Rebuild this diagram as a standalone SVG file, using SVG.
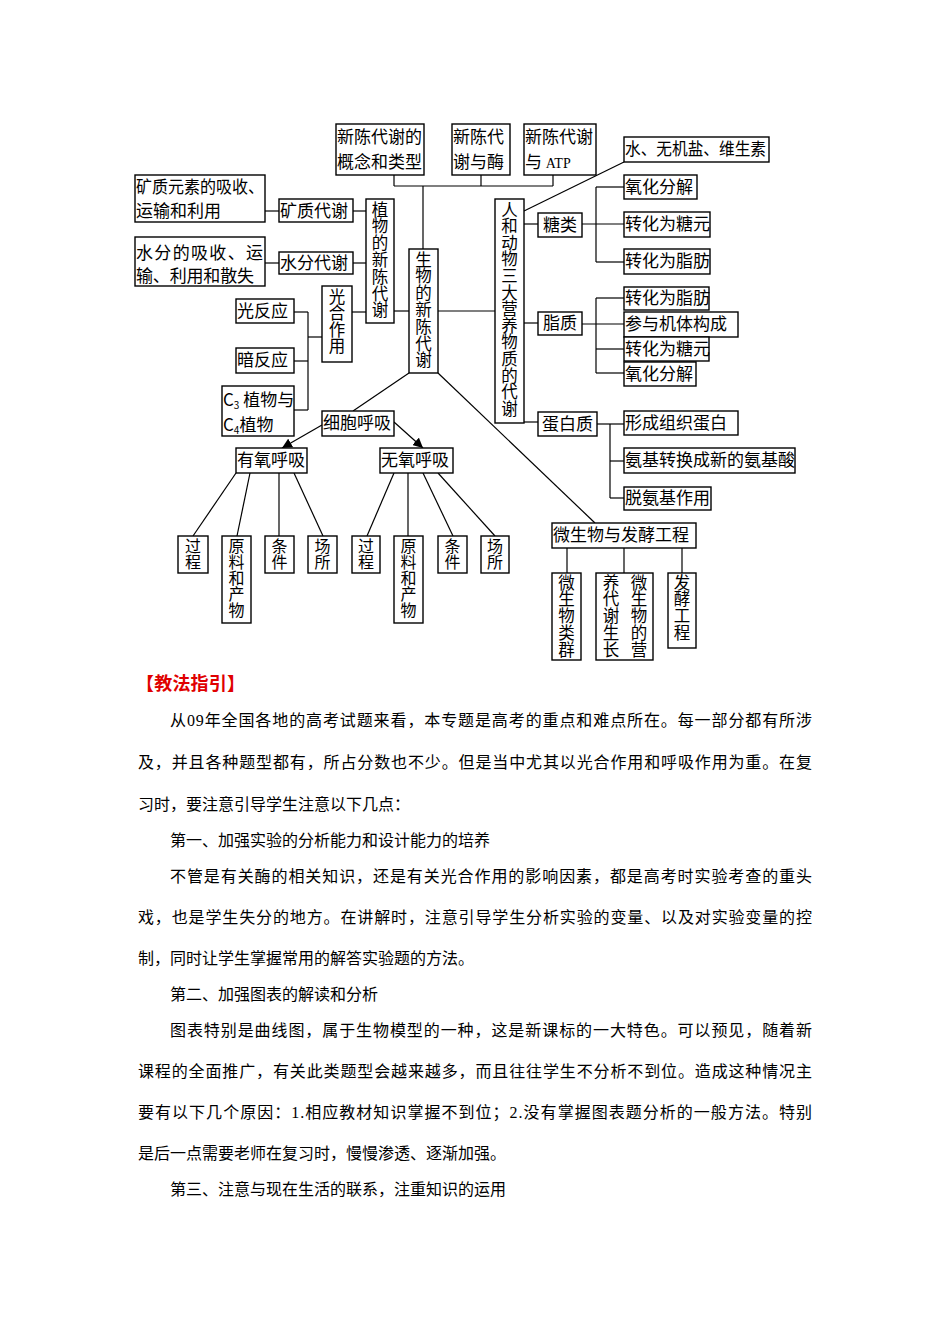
<svg xmlns="http://www.w3.org/2000/svg" width="950" height="1344" viewBox="0 0 950 1344">
<defs>
<style>
.b{fill:#fff;stroke:#000;stroke-width:1.4}
.t{font-family:"Noto Sans CJK SC","Liberation Sans",sans-serif;font-size:17px;fill:#000}
.v{font-family:"Noto Sans CJK SC","Liberation Sans",sans-serif;font-size:16.5px;fill:#000;writing-mode:vertical-rl;text-orientation:upright}
.s{font-size:16px}
.c line{stroke:#000;stroke-width:1.2;fill:none}
.p{font-family:"Liberation Serif","Noto Sans CJK SC",serif;font-size:16px;fill:#000}
.h{font-family:"Noto Sans CJK SC","Liberation Sans",sans-serif;font-size:18px;font-weight:bold;fill:#e00000}
</style>
<marker id="ah" viewBox="0 0 10 10" refX="10" refY="5" markerWidth="10" markerHeight="10" markerUnits="userSpaceOnUse" orient="auto"><path d="M0,0 L10,5 L0,10 z" fill="#000"/></marker>
</defs>
<rect width="950" height="1344" fill="#fff"/>

<g class="c" id="connectors">
<line x1="394" y1="175" x2="394" y2="186"/>
<line x1="394" y1="186" x2="553" y2="186"/>
<line x1="481" y1="175" x2="481" y2="186"/>
<line x1="553" y1="175" x2="553" y2="186"/>
<line x1="423" y1="186" x2="423" y2="249"/>
<line x1="265" y1="211" x2="279" y2="211"/>
<line x1="353" y1="211" x2="366" y2="211"/>
<line x1="265" y1="263" x2="279" y2="263"/>
<line x1="353" y1="263" x2="366" y2="263"/>
<line x1="352" y1="312" x2="366" y2="312"/>
<line x1="394" y1="311" x2="409" y2="311"/>
<line x1="438" y1="311" x2="495" y2="311"/>
<line x1="294" y1="312" x2="308" y2="312"/>
<line x1="294" y1="361" x2="308" y2="361"/>
<line x1="294" y1="410" x2="308" y2="410"/>
<line x1="308" y1="312" x2="308" y2="410"/>
<line x1="308" y1="337" x2="322" y2="337"/>
<line x1="409" y1="373" x2="353" y2="411"/>
<line x1="322" y1="425" x2="282" y2="448" marker-end="url(#ah)"/>
<line x1="394" y1="422" x2="423" y2="448" marker-end="url(#ah)"/>
<line x1="236" y1="473" x2="193" y2="536"/>
<line x1="250" y1="473" x2="237" y2="536"/>
<line x1="279" y1="473" x2="279" y2="536"/>
<line x1="294" y1="473" x2="323" y2="536"/>
<line x1="394" y1="473" x2="367" y2="536"/>
<line x1="408" y1="473" x2="408" y2="536"/>
<line x1="423" y1="473" x2="453" y2="536"/>
<line x1="438" y1="473" x2="495" y2="536"/>
<line x1="438" y1="373" x2="595" y2="523"/>
<line x1="524" y1="211" x2="624" y2="162"/>
<line x1="524" y1="224" x2="538" y2="224"/>
<line x1="582" y1="224" x2="624" y2="224"/>
<line x1="596" y1="187" x2="596" y2="262"/>
<line x1="596" y1="187" x2="624" y2="187"/>
<line x1="596" y1="262" x2="624" y2="262"/>
<line x1="524" y1="323" x2="538" y2="323"/>
<line x1="582" y1="324" x2="624" y2="324"/>
<line x1="596" y1="298" x2="596" y2="373"/>
<line x1="596" y1="298" x2="624" y2="298"/>
<line x1="596" y1="349" x2="624" y2="349"/>
<line x1="596" y1="373" x2="624" y2="373"/>
<line x1="524" y1="422" x2="538" y2="422"/>
<line x1="597" y1="424" x2="624" y2="424"/>
<line x1="610" y1="424" x2="610" y2="498"/>
<line x1="610" y1="461" x2="624" y2="461"/>
<line x1="610" y1="498" x2="624" y2="498"/>
<line x1="567" y1="548" x2="567" y2="573"/>
<line x1="624" y1="548" x2="624" y2="573"/>
<line x1="682" y1="548" x2="682" y2="573"/>
</g>

<g id="n_concept"><rect class="b" x="336" y="124" width="88" height="51"/><text class="t"><tspan x="337" y="143">新陈代谢的</tspan><tspan x="337" y="168">概念和类型</tspan></text></g>
<g id="n_enzyme"><rect class="b" x="452" y="124" width="58" height="51"/><text class="t"><tspan x="453" y="143">新陈代</tspan><tspan x="453" y="168">谢与酶</tspan></text></g>
<g id="n_atp"><rect class="b" x="524" y="124" width="72" height="51"/><text class="t"><tspan x="525" y="143">新陈代谢</tspan><tspan x="525" y="168">与 </tspan><tspan font-family="Liberation Serif" font-size="14">ATP</tspan></text></g>

<g id="n_center"><rect class="b" x="409" y="249" width="29" height="124"/><text class="v" x="423.5" y="251" letter-spacing="0.3">生物的新陈代谢</text></g>
<g id="n_plant"><rect class="b" x="366" y="199" width="28" height="124"/><text class="v" x="380" y="201" letter-spacing="0.3">植物的新陈代谢</text></g>
<g id="n_animal"><rect class="b" x="495" y="199" width="29" height="224"/><text class="v" x="509.5" y="201" letter-spacing="0.1">人和动物三大营养物质的代谢</text></g>

<g id="n_mineral_desc"><rect class="b" x="135" y="175" width="130" height="47"/><text class="t"><tspan x="136" y="193" textLength="128" lengthAdjust="spacingAndGlyphs">矿质元素的吸收、</tspan><tspan x="136" y="217">运输和利用</tspan></text></g>
<g id="n_mineral"><rect class="b" x="279" y="199" width="74" height="23"/><text class="t" x="280" y="217">矿质代谢</text></g>
<g id="n_water_desc"><rect class="b" x="135" y="237" width="130" height="49"/><text class="t" font-size="16"><tspan x="136" y="259" textLength="127" lengthAdjust="spacing">水分的吸收、运</tspan><tspan x="136" y="282" textLength="118" lengthAdjust="spacing">输、利用和散失</tspan></text></g>
<g id="n_water"><rect class="b" x="279" y="252" width="74" height="22"/><text class="t" x="280" y="269">水分代谢</text></g>
<g id="n_photo"><rect class="b" x="322" y="286" width="30" height="76"/><text class="v" x="337" y="288">光合作用</text></g>
<g id="n_light"><rect class="b" x="236" y="299" width="58" height="24"/><text class="t" x="237" y="317">光反应</text></g>
<g id="n_dark"><rect class="b" x="236" y="348" width="58" height="25"/><text class="t" x="237" y="366">暗反应</text></g>
<g id="n_c3c4"><rect class="b" x="222" y="386" width="72" height="50"/><text class="t"><tspan x="223" y="406">C</tspan><tspan font-size="10" dy="3">3</tspan><tspan dy="-3"> 植物与</tspan><tspan x="223" y="431">C</tspan><tspan font-size="10" dy="3">4</tspan><tspan dy="-3">植物</tspan></text></g>
<g id="n_resp"><rect class="b" x="322" y="411" width="72" height="25"/><text class="t" x="323" y="429">细胞呼吸</text></g>
<g id="n_aerobic"><rect class="b" x="236" y="448" width="71" height="25"/><text class="t" x="237" y="466">有氧呼吸</text></g>
<g id="n_anaerobic"><rect class="b" x="380" y="448" width="73" height="25"/><text class="t" x="381" y="466">无氧呼吸</text></g>

<g id="n_a_process"><rect class="b" x="178" y="536" width="30" height="37"/><text class="v s" x="193" y="538">过程</text></g>
<g id="n_a_material"><rect class="b" x="222" y="536" width="29" height="87"/><text class="v s" x="236.5" y="538">原料和产物</text></g>
<g id="n_a_condition"><rect class="b" x="265" y="536" width="29" height="37"/><text class="v s" x="279.5" y="538">条件</text></g>
<g id="n_a_place"><rect class="b" x="308" y="536" width="29" height="37"/><text class="v s" x="322.5" y="538">场所</text></g>
<g id="n_n_process"><rect class="b" x="352" y="536" width="28" height="37"/><text class="v s" x="366" y="538">过程</text></g>
<g id="n_n_material"><rect class="b" x="394" y="536" width="29" height="87"/><text class="v s" x="408.5" y="538">原料和产物</text></g>
<g id="n_n_condition"><rect class="b" x="438" y="536" width="29" height="37"/><text class="v s" x="452.5" y="538">条件</text></g>
<g id="n_n_place"><rect class="b" x="481" y="536" width="28" height="37"/><text class="v s" x="495" y="538">场所</text></g>

<g id="n_water_salt"><rect class="b" x="624" y="137" width="145" height="25"/><text class="t" x="625" y="155" textLength="141" lengthAdjust="spacingAndGlyphs">水、无机盐、维生素</text></g>
<g id="n_sugar"><rect class="b" x="538" y="213" width="44" height="24"/><text class="t" x="560" y="231" text-anchor="middle">糖类</text></g>
<g id="n_s_ox"><rect class="b" x="624" y="175" width="73" height="24"/><text class="t" x="625" y="193">氧化分解</text></g>
<g id="n_s_glycogen"><rect class="b" x="624" y="212" width="86" height="25"/><text class="t" x="625" y="230">转化为糖元</text></g>
<g id="n_s_fat"><rect class="b" x="624" y="249" width="86" height="25"/><text class="t" x="625" y="267">转化为脂肪</text></g>
<g id="n_lipid"><rect class="b" x="538" y="312" width="44" height="23"/><text class="t" x="560" y="329" text-anchor="middle">脂质</text></g>
<g id="n_l_fat"><rect class="b" x="624" y="287" width="85" height="23"/><text class="t" x="625" y="304">转化为脂肪</text></g>
<g id="n_l_struct"><rect class="b" x="624" y="312" width="114" height="25"/><text class="t" x="625" y="330">参与机体构成</text></g>
<g id="n_l_glycogen"><rect class="b" x="624" y="337" width="85" height="24"/><text class="t" x="625" y="355">转化为糖元</text></g>
<g id="n_l_ox"><rect class="b" x="624" y="362" width="72" height="24"/><text class="t" x="625" y="380">氧化分解</text></g>
<g id="n_protein"><rect class="b" x="538" y="412" width="59" height="24"/><text class="t" x="567.5" y="430" text-anchor="middle">蛋白质</text></g>
<g id="n_p_tissue"><rect class="b" x="624" y="411" width="114" height="24"/><text class="t" x="625" y="429">形成组织蛋白</text></g>
<g id="n_p_trans"><rect class="b" x="624" y="448" width="171" height="25"/><text class="t" x="625" y="466">氨基转换成新的氨基酸</text></g>
<g id="n_p_deam"><rect class="b" x="624" y="487" width="87" height="23"/><text class="t" x="625" y="504">脱氨基作用</text></g>

<g id="n_micro"><rect class="b" x="552" y="523" width="144" height="25"/><text class="t" x="553" y="541">微生物与发酵工程</text></g>
<g id="n_m_group"><rect class="b" x="552" y="573" width="29" height="87"/><text class="v" x="566.5" y="574" letter-spacing="0.3">微生物类群</text></g>
<g id="n_m_nutri"><rect class="b" x="596" y="573" width="57" height="87"/><text class="v" x="639" y="574" letter-spacing="0.3">微生物的营</text><text class="v" x="611" y="574" letter-spacing="0.3">养代谢生长</text></g>
<g id="n_m_ferm"><rect class="b" x="668" y="573" width="28" height="75"/><text class="v" x="682" y="574" letter-spacing="0.3">发酵工程</text></g>

<g id="guide">
<text class="h" x="136" y="690" textLength="109" lengthAdjust="spacing">【教法指引】</text>
<text class="p" x="170" y="726" textLength="642" lengthAdjust="spacing">从09年全国各地的高考试题来看，本专题是高考的重点和难点所在。每一部分都有所涉</text>
<text class="p" x="138" y="768" textLength="674" lengthAdjust="spacing">及，并且各种题型都有，所占分数也不少。但是当中尤其以光合作用和呼吸作用为重。在复</text>
<text class="p" x="138" y="810">习时，要注意引导学生注意以下几点：</text>
<text class="p" x="170" y="846">第一、加强实验的分析能力和设计能力的培养</text>
<text class="p" x="170" y="882" textLength="642" lengthAdjust="spacing">不管是有关酶的相关知识，还是有关光合作用的影响因素，都是高考时实验考查的重头</text>
<text class="p" x="138" y="923" textLength="674" lengthAdjust="spacing">戏，也是学生失分的地方。在讲解时，注意引导学生分析实验的变量、以及对实验变量的控</text>
<text class="p" x="138" y="964">制，同时让学生掌握常用的解答实验题的方法。</text>
<text class="p" x="170" y="1000">第二、加强图表的解读和分析</text>
<text class="p" x="170" y="1036" textLength="642" lengthAdjust="spacing">图表特别是曲线图，属于生物模型的一种，这是新课标的一大特色。可以预见，随着新</text>
<text class="p" x="138" y="1077" textLength="674" lengthAdjust="spacing">课程的全面推广，有关此类题型会越来越多，而且往往学生不分析不到位。造成这种情况主</text>
<text class="p" x="138" y="1118" textLength="674" lengthAdjust="spacing">要有以下几个原因：1.相应教材知识掌握不到位；2.没有掌握图表题分析的一般方法。特别</text>
<text class="p" x="138" y="1159">是后一点需要老师在复习时，慢慢渗透、逐渐加强。</text>
<text class="p" x="170" y="1195">第三、注意与现在生活的联系，注重知识的运用</text>
</g>
</svg>
